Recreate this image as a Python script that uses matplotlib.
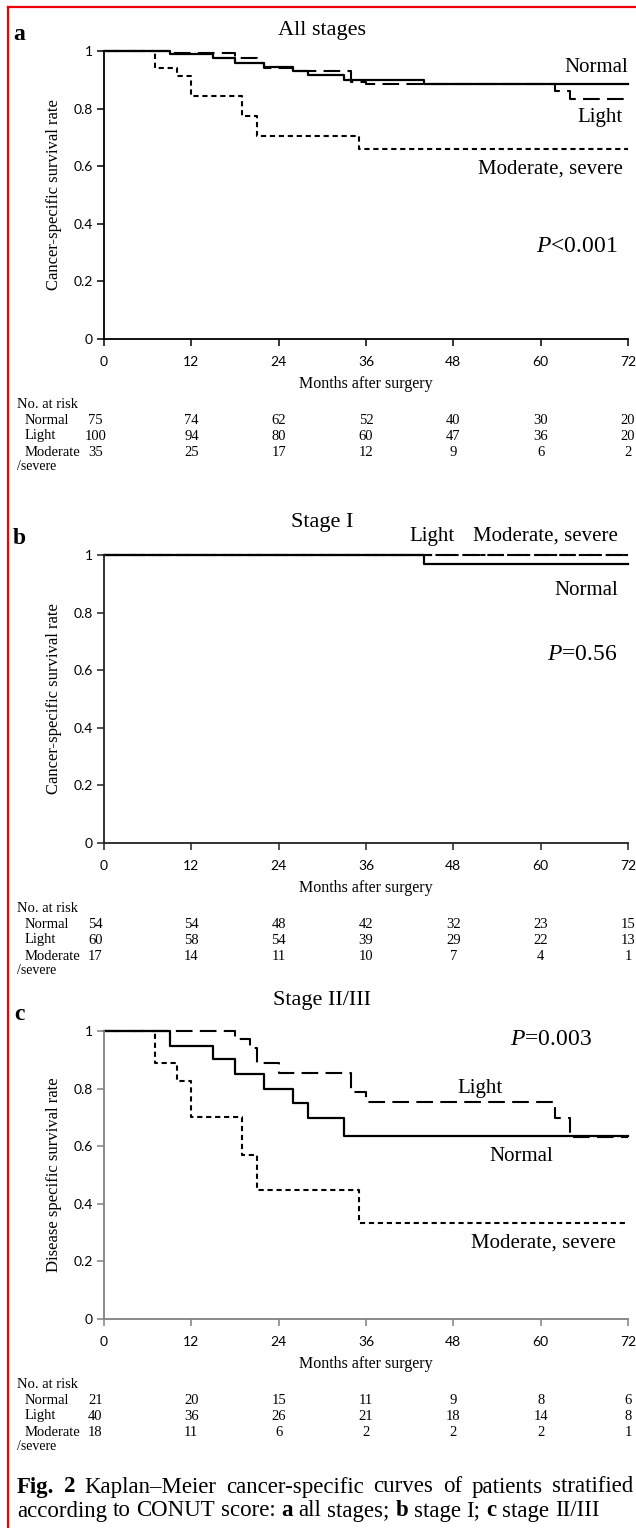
import matplotlib
matplotlib.use('Agg')
import matplotlib.pyplot as plt
from matplotlib.lines import Line2D
from matplotlib.transforms import blended_transform_factory

plt.rcParams['font.family'] = 'Liberation Serif'
plt.rcParams['mathtext.fontset'] = 'custom'
plt.rcParams['mathtext.rm'] = 'Liberation Serif'
plt.rcParams['mathtext.it'] = 'Liberation Serif:italic'
plt.rcParams['mathtext.bf'] = 'Liberation Serif:bold'

# ---- data ----
months = [0, 12, 24, 36, 48, 60, 72]
groups = ['Normal', 'Light', 'Moderate']

# panel a: all stages
a_normal_t = [0, 9, 15, 18, 22, 26, 28, 33, 44, 72]
a_normal_s = [1, 0.988, 0.976, 0.96, 0.945, 0.93, 0.915, 0.9, 0.887, 0.887]
a_light_t = [0, 9, 18, 21, 22, 26, 34, 36, 62, 64, 72]
a_light_s = [1, 0.994, 0.976, 0.958, 0.942, 0.93, 0.893, 0.885, 0.86, 0.833, 0.833]
a_mod_t = [0, 7, 10, 12, 19, 21, 35, 72]
a_mod_s = [1, 0.942, 0.912, 0.845, 0.776, 0.705, 0.66, 0.66]
a_risk = [[75, 74, 62, 52, 40, 30, 20],
          [100, 94, 80, 60, 47, 36, 20],
          [35, 25, 17, 12, 9, 6, 2]]

# panel b: stage I
b_normal_t = [0, 44, 72]
b_normal_s = [1, 0.97, 0.97]
b_light_t = [0, 72]
b_light_s = [1, 1]
b_mod_t = [0, 72]
b_mod_s = [1, 1]
b_risk = [[54, 54, 48, 42, 32, 23, 15],
          [60, 58, 54, 39, 29, 22, 13],
          [17, 14, 11, 10, 7, 4, 1]]

# panel c: stage II/III
c_normal_t = [0, 9, 15, 18, 22, 26, 28, 33, 72]
c_normal_s = [1, 0.949, 0.902, 0.852, 0.80, 0.749, 0.697, 0.636, 0.636]
c_light_t = [0, 18, 20, 21, 24, 34, 36, 62, 64, 72]
c_light_s = [1, 0.972, 0.94, 0.888, 0.855, 0.788, 0.754, 0.698, 0.632, 0.632]
c_mod_t = [0, 7, 10, 12, 19, 21, 35, 72]
c_mod_s = [1, 0.888, 0.828, 0.703, 0.57, 0.447, 0.332, 0.332]
c_risk = [[21, 20, 15, 11, 9, 8, 6],
          [40, 36, 26, 21, 18, 14, 8],
          [18, 11, 6, 2, 2, 2, 1]]

W, H = 636, 1528
fig = plt.figure(figsize=(W / 100, H / 100), dpi=100)


def fy(y):
    return 1 - y / H


def draw_panel(letter, title, ylabel, top, title_gap, curves, risk, labels, axcol):
    bottom = top + 288
    ax = fig.add_axes([104 / W, fy(bottom), 524 / W, 288 / H])
    (nt, ns), (lt, ls), (mt, ms) = curves
    ax.step(mt, ms, where='post', color='black', lw=1.5, ls=(0, (2.5, 1.8)), clip_on=False)
    ax.step(lt, ls, where='post', color='black', lw=1.5, ls=(0, (8, 3.5)), clip_on=False)
    ax.step(nt, ns, where='post', color='black', lw=1.6, clip_on=False)
    ax.set_xlim(0, 72)
    ax.set_ylim(0, 1)
    ax.set_xticks(months)
    ax.set_yticks([0, 0.2, 0.4, 0.6, 0.8, 1])
    ax.set_yticklabels(['0', '0.2', '0.4', '0.6', '0.8', '1'])
    for s in ['top', 'right']:
        ax.spines[s].set_visible(False)
    for s in ['left', 'bottom']:
        ax.spines[s].set_color(axcol)
        ax.spines[s].set_linewidth(1.3)
    ax.tick_params(direction='out', length=5, width=1.1, color=axcol, pad=3)
    ax.tick_params(axis='x', pad=7)
    for lab in ax.get_xticklabels() + ax.get_yticklabels():
        lab.set_fontfamily('Lato')
        lab.set_fontsize(10)
    ax.set_ylabel(ylabel, fontsize=12)
    ax.yaxis.set_label_coords(-0.08, 0.5)
    fig.text(0, fy(top - title_gap), title, fontsize=16, ha='center', va='center').set_x(
        (104 + 524 * 30 / 72) / W)
    fig.text(19 / W, fy(top - 16), letter, fontsize=17, fontweight='bold', ha='center', va='center')
    for txt, x, y, ha, size in labels:
        ax.text(x, y, txt, fontsize=size, ha=ha, va='center')

    tr = blended_transform_factory(ax.transData, fig.transFigure)
    ax.text(36, fy(bottom + 45), 'Months after surgery', transform=tr, fontsize=11.5,
            ha='center', va='center')
    fig.text(17 / W, fy(bottom + 65), 'No. at risk', fontsize=10.5, va='center')
    cols = [-1.2] + months[1:]
    for i, (g, row) in enumerate(zip(groups, risk)):
        yy = fy(bottom + 81 + 16 * i)
        fig.text(25 / W, yy, g, fontsize=10.5, va='center')
        for x, v in zip(cols, row):
            ax.text(x, yy, str(v), transform=tr, fontsize=10.5, ha='center', va='center')
    fig.text(17 / W, fy(bottom + 128), '/severe', fontsize=10, va='center')


draw_panel('a', 'All stages', 'Cancer-specific survival rate', 51, 21,
           [(a_normal_t, a_normal_s), (a_light_t, a_light_s), (a_mod_t, a_mod_s)], a_risk,
           [('Normal', 72, 0.942, 'right', 15), ('Light', 71.3, 0.77, 'right', 15),
            ('Moderate, severe', 71.3, 0.59, 'right', 15),
            ('$P$<0.001', 70.6, 0.32, 'right', 17)], 'black')
draw_panel('b', 'Stage I', 'Cancer-specific survival rate', 555, 32,
           [(b_normal_t, b_normal_s), (b_light_t, b_light_s), (b_mod_t, b_mod_s)], b_risk,
           [('Light', 45, 1.065, 'center', 15), ('Moderate, severe', 70.6, 1.065, 'right', 15),
            ('Normal', 70.6, 0.877, 'right', 15),
            ('$P$=0.56', 70.6, 0.654, 'right', 17)], '#222222')
draw_panel('c', 'Stage II/III', 'Disease specific survival rate', 1031, 31,
           [(c_normal_t, c_normal_s), (c_light_t, c_light_s), (c_mod_t, c_mod_s)], c_risk,
           [('$P$=0.003', 67, 0.972, 'right', 17), ('Light', 51.7, 0.8, 'center', 15),
            ('Normal', 57.3, 0.565, 'center', 15),
            ('Moderate, severe', 70.4, 0.265, 'right', 15)], '#808080')

# caption, first line justified
fig.canvas.draw()
rend = fig.canvas.get_renderer()


def caption_line(words, y, x0, x1=None, size=16.5):
    objs = [fig.text(0, fy(y), w, fontsize=size, fontweight='bold' if b else 'normal',
                     va='center') for w, b in words]
    widths = [o.get_window_extent(rend).width for o in objs]
    space = rend.points_to_pixels(size) * 0.25
    if x1 is not None:
        space = (x1 - x0 - sum(widths)) / (len(objs) - 1)
    x = x0
    for o, w in zip(objs, widths):
        o.set_x(x / W)
        x += w + space


caption_line([('Fig.', 1), ('2', 1), ('Kaplan–Meier', 0), ('cancer-specific', 0), ('curves', 0),
              ('of', 0), ('patients', 0), ('stratified', 0)], 1487, 17, 633)
caption_line([('according', 0), ('to', 0), ('CONUT', 0), ('score:', 0), ('a', 1), ('all', 0),
              ('stages;', 0), ('b', 1), ('stage', 0), ('I;', 0), ('c', 1), ('stage', 0),
              ('II/III', 0)], 1511, 17)

# red frame
fig.add_artist(Line2D([8 / W, 8 / W], [0, fy(7)], color='#ee0000', lw=1.6))
fig.add_artist(Line2D([8 / W, 1], [fy(7), fy(7)], color='#ee0000', lw=1.6))

fig.savefig('out.png', dpi=100)
